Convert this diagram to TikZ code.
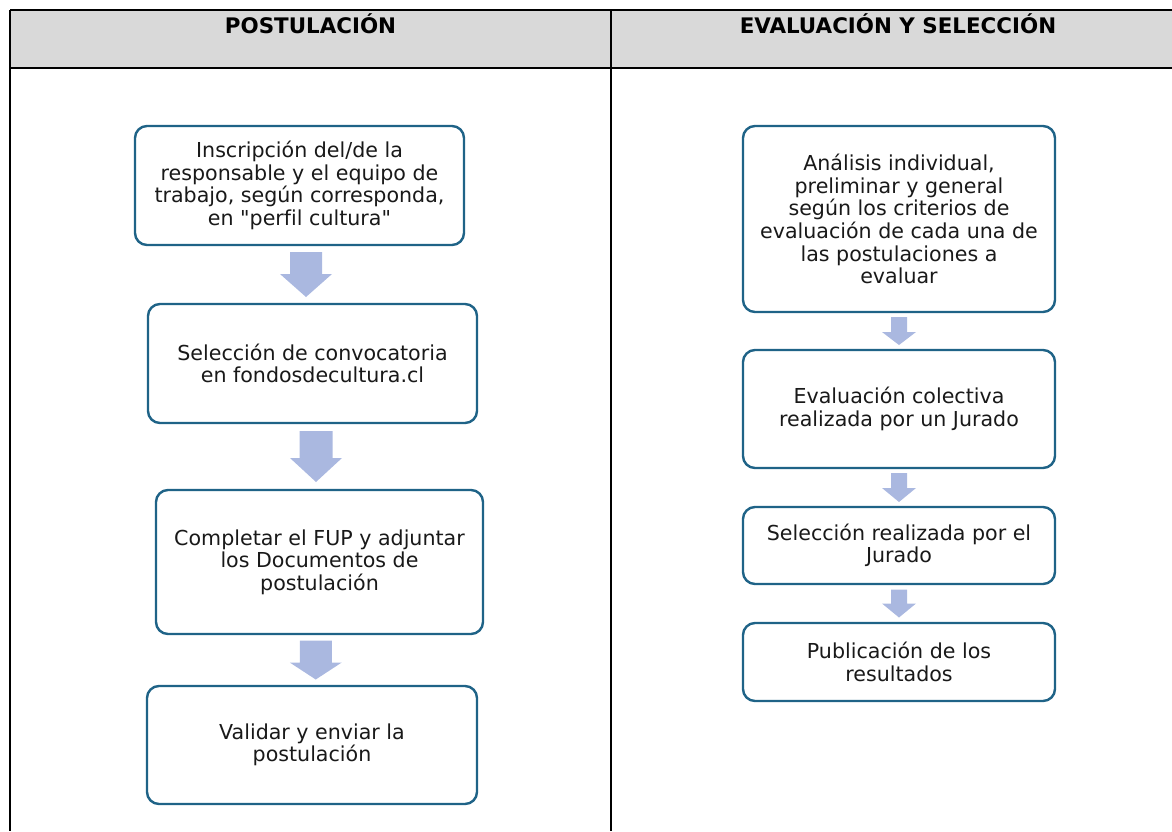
\documentclass[tikz,border=0pt]{standalone}
\usepackage{fontspec}
\setmainfont{DejaVu Sans}[Ligatures=NoCommon]
\usetikzlibrary{
	positioning
	,calc
}
\definecolor{boxline}{RGB}{31,99,135}
\definecolor{flowfill}{RGB}{170,184,224}
\definecolor{headfill}{RGB}{217,217,217}
\tikzset{
	stage/.style={
		draw=boxline,
		fill=white,
		line width=2.4pt,
		rounded corners=12pt,
		align=center,
		inner sep=0pt,
		font=\fontsize{20.6}{22.6}\selectfont,
		text=black!90
	},
	head/.style={
		inner sep=0pt,
		anchor=base,
		font=\bfseries\fontsize{21.4}{24}\selectfont
	},
	flow/.style={
		fill=flowfill
		,draw=none
	},
	grid line/.style={
		line width=2pt
		,black
	}
}

\begin{document}
\begin{tikzpicture}[x=1pt, y=-1pt]
\useasboundingbox (0,0) rectangle (1172,831);

\fill[headfill] (10,10) rectangle (1172,68);
\draw[grid line] (10,10) -- (1172,10) (10,68) -- (1172,68);
\draw[grid line] (10,10) -- (10,831) (611,10) -- (611,831);

\node[head] (hpos) at (310.5,33) {POSTULACIÓN};
\node[head] (heval) at (898,33) {EVALUACIÓN Y SELECCIÓN};

\begin{scope}[every node/.append style={stage}]
\node[minimum width=329, minimum height=119] (ins) at (299.5,185.5)
	{Inscripción del/de la\\responsable y el equipo de\\trabajo, según corresponda,\\en \textquotedbl perfil cultura\textquotedbl};
\node[minimum width=329, minimum height=119] (sel) at (312.5,363.5)
	{Selección de convocatoria\\en fondosdecultura.cl};
\node[minimum width=327, minimum height=144] (comp) at (319.5,562)
	{Completar el FUP y adjuntar\\los Documentos de\\postulación};
\node[minimum width=330, minimum height=118] (val) at (312,745)
	{Validar y enviar la\\postulación};

\node[minimum width=312, minimum height=186] (ana) at (899,219)
	{Análisis individual,\\preliminar y general\\según los criterios de\\evaluación de cada una de\\las postulaciones a\\evaluar};
\node[minimum width=312, minimum height=118] (col) at (899,409)
	{Evaluación colectiva\\realizada por un Jurado};
\node[minimum width=312, minimum height=77] (jur) at (899,545.5)
	{Selección realizada por el\\Jurado};
\node[minimum width=312, minimum height=78] (pub) at (899,662)
	{Publicación de los\\resultados};
\end{scope}

\foreach \a/\b/\l/\s/\w/\h in {%
ins/sel/45/16/26/23, sel/comp/51/16.5/26/24, comp/val/39/16/26/17%
,ana/col/28/8/17/13, col/jur/29/8/17/14, jur/pub/28/8/17/14%
}{
	\coordinate (m) at ($(\a.south)!.5!(\b.north)$);
	\fill[flow] ($(m)+(-\s,-\l/2)$) -- ++(2*\s,0) -- ++(0,\l-\h) -- ++(\w-\s,0)
		-- ($(m)+(0,\l/2)$) -- ($(m)+(-\w,\l/2-\h)$) -- ($(m)+(-\s,\l/2-\h)$) -- cycle;
}
\end{tikzpicture}
\end{document}
